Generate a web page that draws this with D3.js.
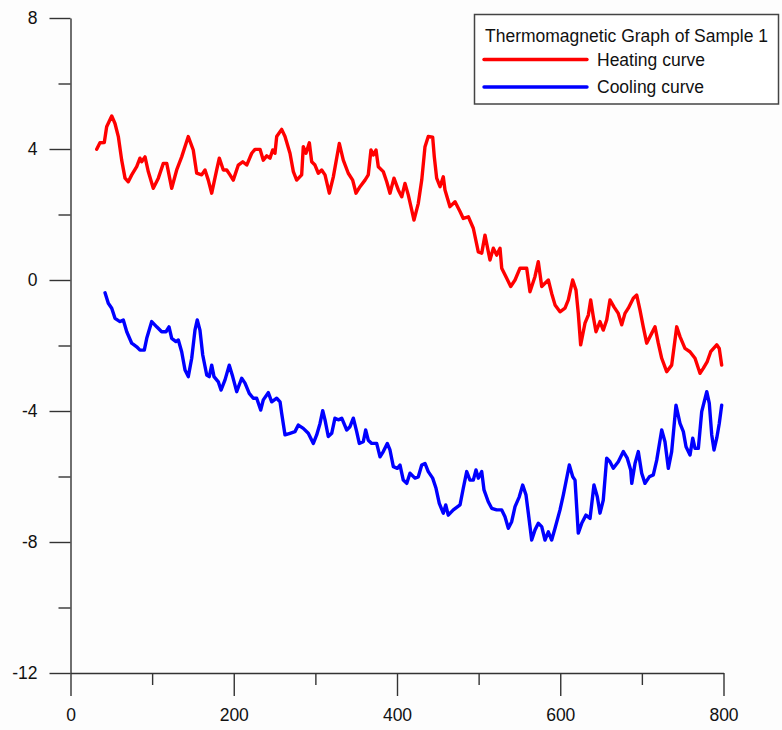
<!DOCTYPE html>
<html>
<head>
<meta charset="utf-8">
<script src="https://cdn.jsdelivr.net/npm/d3@7"></script>
<style>
  html, body { margin: 0; padding: 0; background: #fdfdfd; }
  svg { display: block; }
  text { font-family: Arial, "Liberation Sans", sans-serif; fill: #111; }
</style>
</head>
<body>
<svg id="chart" width="782" height="730"></svg>
<script>
// Heating curve: temperature (x) and magnetisation (y)
const heatX = [32.1,36.1,41.4,44.3,50.5,54.5,58.6,62.7,66.8,70.8,75.0,81.1,85.1,87.2,91.3,95.3,101.4,107.6,113.7,117.9,124.0,130.1,136.2,144.3,150.4,154.6,160.7,164.8,168.8,173.0,179.1,182.3,187.2,191.4,195.4,199.4,205.6,211.0,215.9,222.0,226.0,232.2,236.2,240.4,244.4,247.7,250.5,252.6,258.7,262.8,268.9,273.0,277.1,283.2,285.2,288.5,292.6,295.5,299.5,303.6,307.7,311.8,317.1,322.0,329.3,334.2,340.3,345.7,349.8,354.7,360.8,364.8,368.1,371.0,374.3,377.1,383.2,387.4,391.4,396.3,401.6,405.8,409.8,413.8,418.0,420.8,426.1,430.3,434.3,438.3,443.7,445.7,448.6,452.7,456.7,458.8,464.9,471.1,477.2,481.2,487.4,493.5,499.6,503.8,507.8,513.9,518.0,522.1,526.2,528.3,534.4,539.3,544.6,550.7,558.9,562.9,569.0,573.1,577.3,581.3,585.4,589.5,593.6,599.7,605.8,609.9,615.2,619.3,622.1,625.0,630.3,634.4,637.3,640.5,643.8,648.7,652.7,656.9,660.9,665.8,671.1,675.3,679.3,683.4,689.5,693.7,697.7,701.7,705.9,712.0,716.1,720.1,724.3,730.4,736.5,742.7,746.7,752.8,758.9,765.1,771.2,775.2,780.1,784.3,791.7,794.8,797.8];
const heatY = [3.99,4.19,4.20,4.68,5.01,4.78,4.38,3.66,3.11,3.00,3.21,3.46,3.72,3.61,3.76,3.31,2.80,3.11,3.56,3.56,2.80,3.36,3.76,4.38,3.97,3.26,3.21,3.36,3.05,2.65,3.36,3.72,3.36,3.36,3.21,3.05,3.51,3.61,3.51,3.87,3.99,3.99,3.66,3.79,3.72,3.97,3.87,4.38,4.60,4.38,3.87,3.31,3.05,3.21,4.07,3.87,4.19,3.61,3.51,3.26,3.36,3.21,2.65,3.15,4.17,3.66,3.26,3.05,2.65,2.85,3.05,3.21,3.97,3.82,3.97,3.46,3.31,3.00,2.65,3.11,2.75,2.54,2.95,2.60,2.14,1.83,2.34,3.05,4.07,4.38,4.36,3.76,3.11,2.85,3.15,2.75,2.24,2.39,2.09,1.88,1.93,1.58,0.86,0.82,1.37,0.61,0.97,0.76,0.97,0.36,0.05,-0.20,0.00,0.36,0.36,-0.36,0.10,0.56,-0.20,-0.10,0.00,-0.41,-0.76,-0.97,-0.86,-0.61,0.00,-0.31,-1.02,-1.98,-1.32,-1.07,-0.61,-1.12,-1.58,-1.27,-1.53,-1.22,-0.61,-0.82,-1.02,-1.37,-1.02,-0.86,-0.56,-0.46,-0.92,-1.43,-1.93,-1.63,-1.43,-1.93,-2.39,-2.80,-2.60,-1.43,-1.73,-2.09,-2.19,-2.39,-2.85,-2.70,-2.49,-2.19,-1.98,-2.09,-2.60];

// Cooling curve
const coolX = [42.3,46.3,50.5,54.5,60.6,64.7,68.9,75.0,81.1,85.1,90.4,93.4,99.5,105.6,111.7,117.0,120.7,124.0,129.2,132.1,136.2,140.3,144.3,148.5,152.5,155.3,158.6,162.0,166.9,170.0,173.0,175.8,181.1,184.4,189.3,194.5,198.7,203.6,209.7,213.8,219.0,223.9,228.1,233.0,236.2,242.3,246.5,252.6,256.7,258.7,262.8,268.9,275.0,279.1,285.2,291.3,297.5,301.6,305.7,309.0,311.8,315.8,320.0,324.0,328.1,332.3,338.4,342.4,346.5,350.6,353.8,358.7,361.6,364.8,369.0,375.1,379.2,383.2,388.1,391.4,395.5,400.4,403.7,407.7,411.9,415.9,422.0,426.1,430.3,434.3,438.3,443.7,447.8,451.8,456.7,459.7,462.8,469.0,477.2,481.2,485.4,489.4,493.5,496.8,499.6,503.8,506.6,511.8,516.0,522.1,528.3,532.3,536.4,540.5,544.6,549.8,554.0,558.0,560.9,565.0,569.1,573.1,577.3,581.3,585.4,589.5,593.6,599.7,603.8,611.1,615.3,618.1,622.1,626.3,631.5,636.5,641.3,645.4,648.7,652.7,656.9,660.9,665.0,671.1,677.3,682.1,686.3,687.6,691.6,695.6,699.8,703.8,709.1,714.0,718.2,724.3,728.3,732.4,736.5,741.8,746.7,750.8,754.1,759.0,762.3,765.1,769.2,773.3,779.5,782.6,785.6,788.4,791.7,794.8,797.8];
const coolY = [-0.39,-0.71,-0.86,-1.17,-1.27,-1.22,-1.58,-1.93,-2.04,-2.14,-2.14,-1.78,-1.27,-1.43,-1.58,-1.58,-1.43,-1.78,-1.88,-1.83,-2.19,-2.75,-2.95,-2.39,-1.53,-1.22,-1.53,-2.29,-2.90,-2.95,-2.60,-2.95,-3.11,-3.36,-3.05,-2.60,-2.95,-3.41,-3.00,-3.15,-3.46,-3.61,-3.61,-3.97,-3.66,-3.44,-3.72,-3.61,-3.72,-4.07,-4.73,-4.68,-4.63,-4.43,-4.53,-4.68,-4.99,-4.73,-4.38,-3.99,-4.27,-4.78,-4.68,-4.22,-4.27,-4.22,-4.58,-4.48,-4.22,-4.63,-4.99,-4.94,-4.58,-4.89,-4.99,-4.99,-5.40,-5.24,-4.99,-5.19,-5.70,-5.75,-5.65,-6.11,-6.21,-5.90,-6.05,-6.01,-5.65,-5.60,-5.85,-6.05,-6.36,-6.82,-7.12,-6.87,-7.18,-7.02,-6.87,-6.36,-5.85,-6.11,-6.11,-5.80,-6.05,-5.85,-6.41,-6.77,-6.97,-7.02,-7.02,-7.23,-7.58,-7.38,-6.92,-6.62,-6.26,-6.56,-7.12,-7.94,-7.63,-7.43,-7.53,-7.94,-7.69,-7.94,-7.58,-7.02,-6.56,-5.65,-6.01,-6.11,-7.73,-7.43,-7.18,-7.28,-6.26,-6.62,-7.12,-6.72,-5.44,-5.55,-5.75,-5.55,-5.24,-5.44,-5.80,-6.21,-5.60,-5.24,-5.90,-6.21,-6.01,-5.95,-5.50,-4.58,-4.94,-5.75,-5.24,-3.82,-4.38,-4.63,-5.09,-5.34,-4.83,-5.14,-5.14,-4.02,-3.41,-3.77,-4.73,-5.19,-4.83,-4.38,-3.82];

const xMajorTicks = [0, 200, 400, 600, 800];
const xMinorTicks = [100, 300, 500, 700];
const yMajorTicks = [-12, -8, -4, 0, 4, 8];
const yMinorTicks = [-10, -6, -2, 2, 6];

const legendTitle = "Thermomagnetic Graph of Sample 1";
const seriesNames = ["Heating curve", "Cooling curve"];
const seriesColors = ["#ff0000", "#0000ff"];

const svg = d3.select("#chart");

const x = d3.scaleLinear().domain([0, 800]).range([70.5, 723.5]);
const y = d3.scaleLinear().domain([-12, 8]).range([673, 18]);

const axisColor = "#333";
const fontSize = 17.5;
// plain hyphen-minus for negative tick labels
const fmt = d => String(d);

// y axis: major ticks with labels, minor ticks without
const yAxisG = svg.append("g").attr("transform", `translate(${x(0)},0)`);
yAxisG.call(d3.axisLeft(y).tickValues(yMajorTicks).tickSize(21).tickSizeOuter(0).tickPadding(12).tickFormat(fmt));
yAxisG.append("g").call(d3.axisLeft(y).tickValues(yMinorTicks).tickSize(12).tickSizeOuter(0).tickFormat(""))
  .select(".domain").remove();

// x axis
const xAxisG = svg.append("g").attr("transform", `translate(0,${y(-12)})`);
xAxisG.call(d3.axisBottom(x).tickValues(xMajorTicks).tickSize(23).tickSizeOuter(0).tickPadding(13).tickFormat(fmt));
xAxisG.append("g").call(d3.axisBottom(x).tickValues(xMinorTicks).tickSize(12).tickSizeOuter(0).tickFormat(""))
  .select(".domain").remove();

svg.selectAll(".domain, .tick line").attr("stroke", axisColor).attr("stroke-width", 1.4);
svg.selectAll(".tick text").attr("font-size", fontSize).attr("fill", "#111")
  .attr("font-family", "Arial, 'Liberation Sans', sans-serif");

// curves
const line = d3.line().x(d => x(d[0])).y(d => y(d[1]));
const series = [
  d3.zip(heatX, heatY),
  d3.zip(coolX, coolY)
];
svg.selectAll("path.curve").data(series).join("path")
  .attr("class", "curve")
  .attr("d", line)
  .attr("fill", "none")
  .attr("stroke", (d, i) => seriesColors[i])
  .attr("stroke-width", 3.4)
  .attr("stroke-linejoin", "round")
  .attr("stroke-linecap", "round");

// legend
const lg = svg.append("g");
lg.append("rect").attr("x", 474.5).attr("y", 14.5).attr("width", 304).attr("height", 89.5)
  .attr("fill", "#fff").attr("stroke", "#444").attr("stroke-width", 1.5);
lg.append("text").attr("x", 485).attr("y", 42).attr("font-size", fontSize).text(legendTitle);
seriesNames.forEach((name, i) => {
  const ly = 59.5 + i * 27.5;
  lg.append("line").attr("x1", 484).attr("x2", 587).attr("y1", ly).attr("y2", ly)
    .attr("stroke", seriesColors[i]).attr("stroke-width", 3.4).attr("stroke-linecap", "round");
  lg.append("text").attr("x", 597).attr("y", ly + 6).attr("font-size", fontSize).text(name);
});
</script>
</body>
</html>
